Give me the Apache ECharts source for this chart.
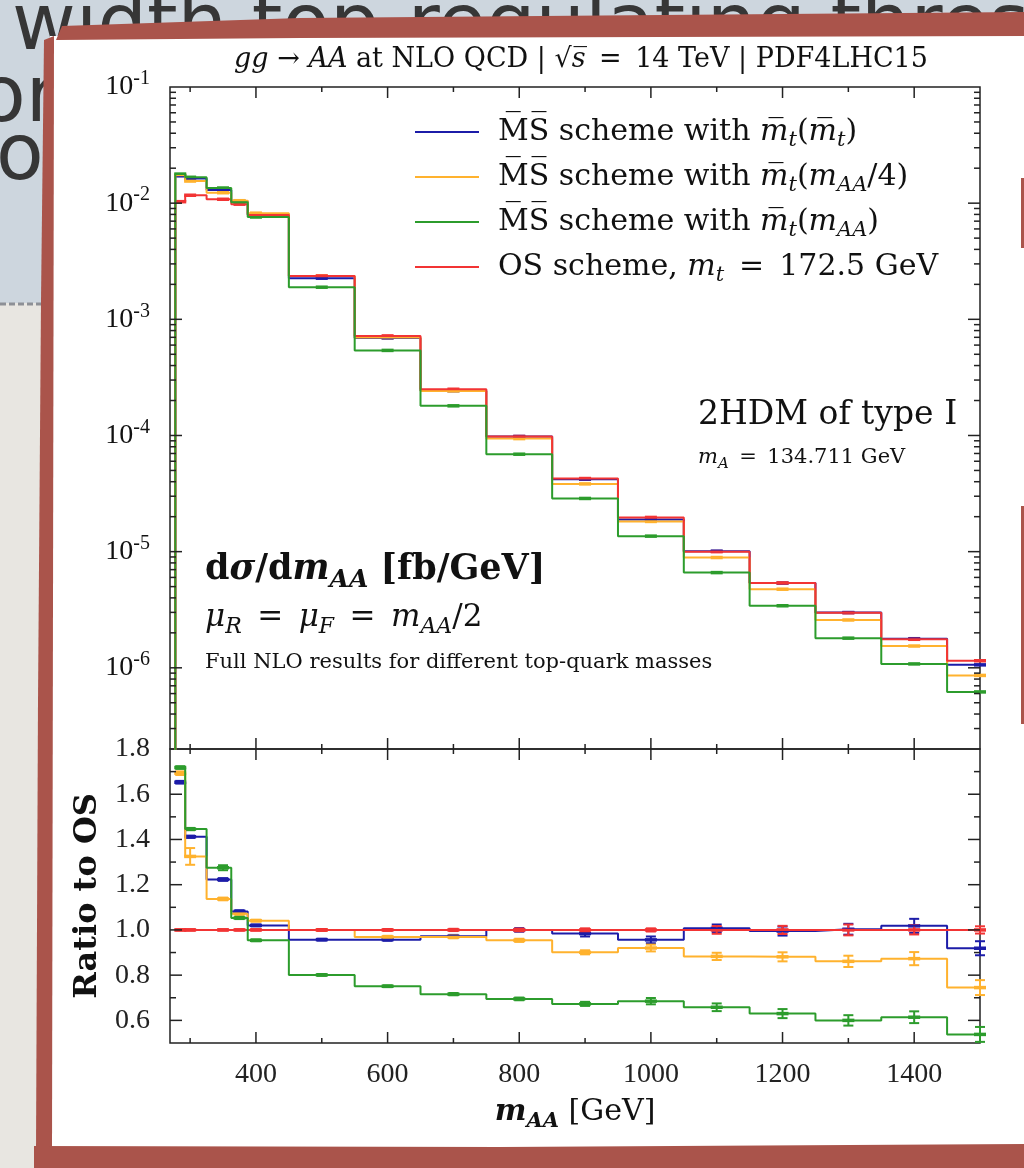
<!DOCTYPE html>
<html>
<head>
<meta charset="utf-8">
<script src="https://cdn.jsdelivr.net/npm/echarts@6/dist/echarts.min.js"></script>
<style>
html, body { margin: 0; padding: 0; background: #e8e6e1; }
#main { width: 1024px; height: 1168px; }
</style>
</head>
<body>
<div id="main"></div>
<script>
// bin centres (GeV); the step outline changes half way between them
var binCenters = [285, 300, 350, 375, 400, 500, 600, 700, 800, 900, 1000, 1100, 1200, 1300, 1400, 1500];
var histLeft = 277.5;
var xMin = 269.42, xMax = 1500;

// dsigma/dm_AA [fb/GeV]
var xsMsbarMt      = [0.0172, 0.0163, 0.0130, 0.0104, 0.0080, 0.00226, 0.00069, 0.000243, 9.8e-5, 4.2e-5, 1.89e-5, 1.01e-5, 5.36e-6, 2.99e-6, 1.78e-6, 1.06e-6];
var xsMsbarQuarter = [0.0175, 0.0155, 0.0123, 0.0105, 0.0082, 0.00236, 0.000697, 0.000242, 9.4e-5, 3.83e-5, 1.82e-5, 8.9e-6, 4.75e-6, 2.58e-6, 1.54e-6, 8.6e-7];
var xsMsbarFull    = [0.0178, 0.0167, 0.0135, 0.0102, 0.0076, 0.00189, 0.00054, 0.00018, 6.9e-5, 2.87e-5, 1.36e-5, 6.6e-6, 3.42e-6, 1.80e-6, 1.08e-6, 6.2e-7];
var xsOS           = [0.0103, 0.0117, 0.0108, 0.0098, 0.0079, 0.00236, 0.00072, 0.00025, 9.8e-5, 4.26e-5, 1.97e-5, 1.0e-5, 5.38e-6, 2.98e-6, 1.76e-6, 1.15e-6];

// ratio to OS and its uncertainty
var ratioMsbarMt      = [1.653, 1.412, 1.223, 1.082, 1.020, 0.957, 0.957, 0.972, 1.000, 0.984, 0.956, 1.007, 0.995, 1.003, 1.018, 0.919];
var ratioMsbarQuarter = [1.693, 1.325, 1.137, 1.072, 1.041, 1.000, 0.969, 0.969, 0.954, 0.901, 0.920, 0.883, 0.881, 0.861, 0.873, 0.745];
var ratioMsbarFull    = [1.718, 1.446, 1.275, 1.053, 0.954, 0.801, 0.751, 0.716, 0.695, 0.673, 0.685, 0.658, 0.630, 0.600, 0.614, 0.538];
var ratioOS           = [1, 1, 1, 1, 1, 1, 1, 1, 1, 1, 1, 1, 1, 1, 1, 1];
var errMsbarMt      = [0.006, 0.005, 0.006, 0.005, 0.004, 0.004, 0.005, 0.006, 0.008, 0.013, 0.015, 0.017, 0.020, 0.024, 0.031, 0.031];
var errMsbarQuarter = [0.008, 0.037, 0.006, 0.005, 0.004, 0.004, 0.005, 0.006, 0.007, 0.009, 0.015, 0.016, 0.020, 0.025, 0.029, 0.033];
var errMsbarFull    = [0.006, 0.005, 0.011, 0.005, 0.004, 0.004, 0.004, 0.005, 0.006, 0.009, 0.014, 0.017, 0.020, 0.023, 0.026, 0.033];
var errOS           = [0.003, 0.003, 0.003, 0.003, 0.003, 0.004, 0.004, 0.005, 0.006, 0.007, 0.007, 0.017, 0.018, 0.024, 0.020, 0.016];

// axis ticks and labels
var xLabelValues = [400, 600, 800, 1000, 1200, 1400];
var xMinorTicks = [300, 500, 700, 900, 1100, 1300];
var ratioLabelValues = [0.6, 0.8, 1.0, 1.2, 1.4, 1.6, 1.8];
var ratioMinorTicks = [0.7, 0.9, 1.1, 1.3, 1.5, 1.7];
var logMin = 2e-7, logMax = 0.1;
var ratioMin = 0.5, ratioMax = 1.8;

var names = ['msbar_mt', 'msbar_quarter', 'msbar_full', 'os'];
var colors = { msbar_mt: '#1c1ca8', msbar_quarter: '#ffb22e', msbar_full: '#2c9c2c', os: '#f23434' };

var FONT = 'DejaVu Serif';
var TICKFONT = 'Liberation Serif';
var INK = '#111';

function richSet(size, weight, family) {
	var L = Math.round(size * 1.3), s = Math.round(size * 0.7);
	function st(extra) {
		var o = { fontFamily: family || FONT, fontSize: size, fontWeight: weight || 'normal', color: INK, lineHeight: L };
		for (var k in extra) o[k] = extra[k];
		return o;
	}
	return {
		r: st({}),
		i: st({ fontStyle: 'italic' }),
		sub: st({ fontStyle: 'italic', fontSize: s, lineHeight: s, verticalAlign: 'bottom' }),
		sup: st({ fontSize: s, lineHeight: s, verticalAlign: 'top' })
	};
}

var MS = 'M\u0305S\u0305';
var EQ = '\u2002=\u2002';
var legendText = {
	msbar_mt: '{r|' + MS + ' scheme with }{i|m\u0305}{sub|t}{r|(}{i|m\u0305}{sub|t}{r|)}',
	msbar_quarter: '{r|' + MS + ' scheme with }{i|m\u0305}{sub|t}{r|(}{i|m}{sub|AA}{r|/4)}',
	msbar_full: '{r|' + MS + ' scheme with }{i|m\u0305}{sub|t}{r|(}{i|m}{sub|AA}{r|)}',
	os: '{r|OS scheme, }{i|m}{sub|t}{r|' + EQ + '172.5 GeV}'
};

function stepData(vals, floor) {
	var d = [];
	if (floor != null) d.push([histLeft, floor]);
	d.push([histLeft, vals[0]]);
	for (var i = 0; i < binCenters.length; i++) d.push([binCenters[i], vals[i]]);
	return d;
}

function seg(x1, y1, x2, y2, color, w) {
	return { type: 'line', shape: { x1: x1, y1: y1, x2: x2, y2: y2 }, style: { stroke: color, lineWidth: w } };
}

function histSeries(name, grid, vals, floor) {
	return {
		name: name, type: 'line', step: 'middle', xAxisIndex: grid, yAxisIndex: grid,
		data: stepData(vals, floor), symbol: 'none', clip: true, silent: true,
		lineStyle: { color: colors[name], width: 2 }, itemStyle: { color: colors[name] }
	};
}

function markSeries(name, grid, vals, errs) {
	var data = [];
	for (var i = 0; i < binCenters.length; i++) data.push([binCenters[i], vals[i], errs ? errs[i] : 0]);
	var c = colors[name];
	return {
		type: 'custom', xAxisIndex: grid, yAxisIndex: grid, data: data, silent: true, clip: false, z: 3,
		renderItem: function(params, api) {
			var x = api.value(0), y = api.value(1), e = api.value(2);
			var p = api.coord([x, y]);
			var kids = [];
			if (e > 0) {
				var lo = api.coord([x, y - e]), hi = api.coord([x, y + e]);
				kids.push(seg(p[0], lo[1], p[0], hi[1], c, 2));
				kids.push(seg(p[0] - 5, lo[1], p[0] + 5, lo[1], c, 2));
				kids.push(seg(p[0] - 5, hi[1], p[0] + 5, hi[1], c, 2));
			}
			kids.push(seg(p[0] - 6, p[1], p[0] + 6, p[1], c, 3.5));
			return { type: 'group', children: kids };
		}
	};
}

// tick marks on all four sides, pointing inwards
function tickSeries(grid, yMajor, yMinor, yLo, yHi) {
	return {
		type: 'custom', xAxisIndex: grid, yAxisIndex: grid, data: [[xMin, yLo]], silent: true, clip: false, z: 4,
		renderItem: function(params, api) {
			var kids = [], ink = '#222';
			var left = api.coord([xMin, yLo])[0], right = api.coord([xMax, yLo])[0];
			var bottom = api.coord([xMin, yLo])[1], top = api.coord([xMin, yHi])[1];
			function xt(list, len) {
				list.forEach(function(v) {
					var x = api.coord([v, yLo])[0];
					kids.push(seg(x, bottom, x, bottom - len, ink, 1.5));
					kids.push(seg(x, top, x, top + len, ink, 1.5));
				});
			}
			function yt(list, len) {
				list.forEach(function(v) {
					if (v <= yLo || v >= yHi) return;
					var y = api.coord([xMin, v])[1];
					kids.push(seg(left, y, left + len, y, ink, 1.5));
					kids.push(seg(right, y, right - len, y, ink, 1.5));
				});
			}
			xt(xLabelValues, 11);
			xt(xMinorTicks, 5);
			yt(yMajor, 12);
			yt(yMinor, 6);
			return { type: 'group', children: kids };
		}
	};
}

var logMajor = [], logMinor = [];
for (var e = -7; e <= -1; e++) {
	logMajor.push(Math.pow(10, e));
	for (var k = 2; k <= 9; k++) logMinor.push(k * Math.pow(10, e));
}

var series = [];
var order = ['msbar_mt', 'msbar_quarter', 'os', 'msbar_full'];
var xsByName = { msbar_mt: xsMsbarMt, msbar_quarter: xsMsbarQuarter, msbar_full: xsMsbarFull, os: xsOS };
var ratioByName = { msbar_mt: ratioMsbarMt, msbar_quarter: ratioMsbarQuarter, msbar_full: ratioMsbarFull, os: ratioOS };
var errByName = { msbar_mt: errMsbarMt, msbar_quarter: errMsbarQuarter, msbar_full: errMsbarFull, os: errOS };
order.forEach(function(n) {
	series.push(histSeries(n, 0, xsByName[n], 1e-9));
	series.push(markSeries(n, 0, xsByName[n], null));
});
order.forEach(function(n) {
	var s = histSeries(n, 1, ratioByName[n], null);
	s.name = n + '_ratio';
	series.push(s);
	series.push(markSeries(n, 1, ratioByName[n], errByName[n]));
});
series.push(tickSeries(0, logMajor, logMinor, logMin, logMax));
series.push(tickSeries(1, ratioLabelValues, ratioMinorTicks, ratioMin, ratioMax));

function txt(x, y, text, size, weight, z) {
	return { type: 'text', x: x, y: y, z: z || 10, silent: true,
		style: { text: text, rich: richSet(size, weight), fontFamily: FONT, fontSize: size, fill: INK, verticalAlign: 'middle', align: 'left' } };
}

function hand(x, y, text) {
	return { type: 'text', z: -18, silent: true, x: x, y: y,
		style: { text: text, fontFamily: 'DejaVu Sans', fontSize: 78, fill: '#363636', verticalAlign: 'bottom' } };
}

var brick = '#aa544b';
var graphics = [
	{ type: 'rect', z: -20, silent: true, shape: { x: 0, y: 0, width: 1024, height: 303 }, style: { fill: '#cdd6de' } },
	{ type: 'line', z: -19, silent: true, shape: { x1: 0, y1: 304, x2: 60, y2: 304 }, style: { stroke: '#8d9096', lineWidth: 3, lineDash: [6, 3] } },
	hand(12, 68, 'width top-regulating thres'),
	hand(-22, 140, 'or'),
	hand(-4, 198, 'o'),
	{ type: 'rect', z: -10, silent: true, shape: { x: 50, y: 36, width: 974, height: 1112 }, style: { fill: '#ffffff' } },
	{ type: 'polygon', z: -9, silent: true, shape: { points: [[62, 26], [300, 18], [1024, 12], [1024, 36], [300, 38], [56, 40]] }, style: { fill: brick } },
	{ type: 'polygon', z: -9, silent: true, shape: { points: [[44, 40], [54, 36], [53, 600], [52, 1150], [36, 1150], [38, 700], [41, 300]] }, style: { fill: brick } },
	{ type: 'polygon', z: -9, silent: true, shape: { points: [[34, 1146], [500, 1147], [1024, 1144], [1024, 1168], [34, 1168]] }, style: { fill: brick } },
	{ type: 'rect', z: -9, silent: true, shape: { x: 1021, y: 178, width: 3, height: 70 }, style: { fill: brick } },
	{ type: 'rect', z: -9, silent: true, shape: { x: 1021, y: 506, width: 3, height: 218 }, style: { fill: brick } },
	txt(698, 415, '{r|2HDM of type I}', 33),
	txt(698, 458, '{i|m}{sub|A}{r|' + EQ + '134.711 GeV}', 21),
	txt(205, 570, '{r|d}{i|\u03c3}{r|/d}{i|m}{sub|AA}{r| [fb/GeV]}', 35, 'bold'),
	txt(205, 618, '{i|\u03bc}{sub|R}{r|' + EQ + '}{i|\u03bc}{sub|F}{r|' + EQ + '}{i|m}{sub|AA}{r|/2}', 31),
	txt(205, 663, '{r|Full NLO results for different top-quark masses}', 21)
];

var xNameRich = richSet(30);
xNameRich.i.fontWeight = 'bold';
xNameRich.sub.fontWeight = 'bold';

var option = {
	backgroundColor: '#e8e6e1',
	animation: false,
	title: {
		text: '{i|gg}{r| \u2192 }{i|AA}{r| at NLO QCD | \u221a}{i|s\u0305}{r|' + EQ + '14 TeV | PDF4LHC15}',
		left: 576, top: 37, textAlign: 'center',
		textStyle: { fontFamily: FONT, fontSize: 27, fontWeight: 'normal', color: INK, rich: richSet(27) }
	},
	legend: {
		data: names, orient: 'vertical', left: 410, top: 112, selectedMode: false,
		icon: 'rect', itemWidth: 64, itemHeight: 2, itemGap: 10.5,
		formatter: function(n) { return legendText[n]; },
		textStyle: { fontFamily: FONT, fontSize: 30, color: INK, padding: [0, 0, 0, 14], rich: richSet(30) }
	},
	graphic: { elements: graphics },
	grid: [
		{ left: 170, right: 44, top: 87, height: 662, show: true, borderColor: '#222', borderWidth: 1.5, backgroundColor: 'transparent' },
		{ left: 170, right: 44, top: 749, height: 294, show: true, borderColor: '#222', borderWidth: 1.5, backgroundColor: 'transparent' }
	],
	xAxis: [
		{ gridIndex: 0, type: 'value', min: xMin, max: xMax, axisLine: { show: false }, axisTick: { show: false }, axisLabel: { show: false }, splitLine: { show: false } },
		{ gridIndex: 1, type: 'value', min: xMin, max: xMax, axisLine: { show: false }, axisTick: { show: false }, splitLine: { show: false },
			axisLabel: { customValues: xLabelValues, margin: 18, fontFamily: TICKFONT, fontSize: 28, color: '#222', formatter: function(v) { return String(v); } },
			name: '{i|m}{sub|AA}{r| [GeV]}', nameLocation: 'middle', nameGap: 50,
			nameTextStyle: { fontFamily: FONT, fontSize: 30, color: INK, rich: xNameRich } }
	],
	yAxis: [
		{ gridIndex: 0, type: 'log', logBase: 10, min: logMin, max: logMax, axisLine: { show: false }, axisTick: { show: false }, splitLine: { show: false }, minorSplitLine: { show: false },
			axisLabel: { showMinLabel: false, margin: 20, fontFamily: TICKFONT, fontSize: 28, color: '#222', rich: richSet(28, 'normal', TICKFONT),
				formatter: function(v) {
					var l = Math.log10(v), e = Math.round(l);
					if (Math.abs(l - e) > 1e-6) return '';
					return '{r|10}{sup|' + e + '}';
				} } },
		{ gridIndex: 1, type: 'value', min: ratioMin, max: ratioMax, axisLine: { show: false }, axisTick: { show: false }, splitLine: { show: false },
			axisLabel: { customValues: ratioLabelValues, margin: 20, fontFamily: TICKFONT, fontSize: 28, color: '#222', formatter: function(v) { return v.toFixed(1); } },
			name: 'Ratio to OS', nameLocation: 'middle', nameRotate: 90, nameGap: 66,
			nameTextStyle: { fontFamily: FONT, fontSize: 32, fontWeight: 'bold', color: INK } }
	],
	series: series
};

var chart = echarts.init(document.getElementById('main'), null, { renderer: 'canvas' });
chart.setOption(option);
</script>
</body>
</html>
